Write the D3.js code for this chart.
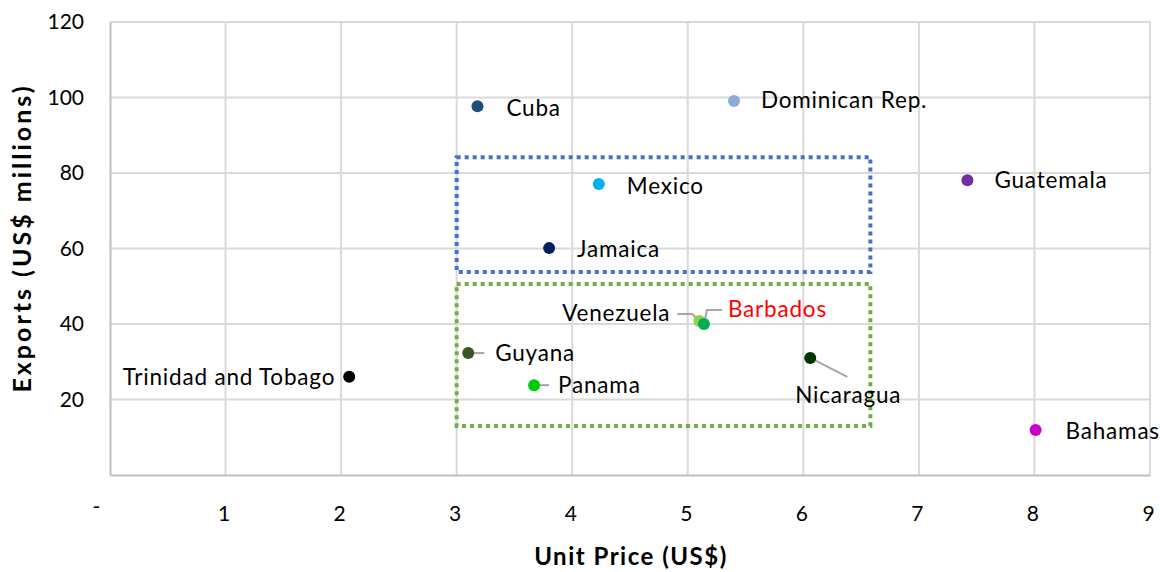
<!DOCTYPE html>
<html>
<head>
<meta charset="utf-8">
<script src="https://cdn.jsdelivr.net/npm/d3@7"></script>
<style>
  body { margin: 0; background: #fff; }
  text { font-family: Lato, "Open Sans", sans-serif; }
</style>
</head>
<body>
<svg id="chart" width="1160" height="572"></svg>
<script>
// data
const countries = ["Trinidad and Tobago", "Cuba", "Dominican Rep.", "Mexico", "Jamaica", "Guatemala",
  "Venezuela", "Barbados", "Guyana", "Panama", "Nicaragua", "Bahamas"];
const unitPrice = [2.07, 3.18, 5.40, 4.23, 3.80, 7.42, 5.10, 5.14, 3.10, 3.67, 6.06, 8.01];
const exportsM = [26.0, 97.7, 99.1, 77.1, 60.1, 78.1, 40.8, 40.0, 32.3, 23.8, 31.0, 11.9];
const xTicks = [0, 1, 2, 3, 4, 5, 6, 7, 8, 9];
const yTicks = [20, 40, 60, 80, 100, 120];
const boxes = [
  { x0: 3.0, x1: 6.58, y0: 53.8, y1: 84.2, color: "#4472c4" },
  { x0: 3.0, x1: 6.58, y0: 13.0, y1: 50.6, color: "#70ad47" }
];

const colors = ["#000000", "#1f4e79", "#8eaadb", "#00b0f0", "#002060", "#7030a0",
  "#92d050", "#00b050", "#375623", "#00cc00", "#003300", "#cc00cc"];
// label placement relative to marker: dx, dy, anchor
const labelPos = {
  "Trinidad and Tobago": [-14, 8, "end"],
  "Cuba": [29, 10, "start"],
  "Dominican Rep.": [27, 7, "start"],
  "Mexico": [28, 10, "start"],
  "Jamaica": [28, 9, "start"],
  "Guatemala": [27, 8, "start"],
  "Venezuela": [-29, 0, "end"],
  "Barbados": [24, -7, "start"],
  "Guyana": [27, 8, "start"],
  "Panama": [24, 8, "start"],
  "Nicaragua": [38, 45, "middle"],
  "Bahamas": [30, 9, "start"]
};
// leader lines as pixel offsets from the marker
const leaders = {
  "Venezuela": [[-22, -7], [-7, -7], [0, 0]],
  "Barbados": [[0, 0], [3, -14], [18, -14]],
  "Guyana": [[0, 0], [16, 0]],
  "Panama": [[0, 0], [15, 0]],
  "Nicaragua": [[0, 0], [37, 19]]
};

const svg = d3.select("#chart");
const m = { left: 110, right: 10, top: 22, bottom: 97 };
const width = 1160 - m.left - m.right;
const height = 572 - m.top - m.bottom;

const x = d3.scaleLinear().domain([0, 9]).range([0, width]);
const y = d3.scaleLinear().domain([0, 120]).range([height, 0]);

const g = svg.append("g").attr("transform", `translate(${m.left},${m.top})`);

// grid
g.append("g").selectAll("line").data(xTicks.slice(1)).join("line")
  .attr("x1", d => x(d)).attr("x2", d => x(d)).attr("y1", 0).attr("y2", height)
  .attr("stroke", "#d9d9d9").attr("stroke-width", 2);
g.append("g").selectAll("line").data(yTicks).join("line")
  .attr("x1", 0).attr("x2", width).attr("y1", d => y(d)).attr("y2", d => y(d))
  .attr("stroke", "#d9d9d9").attr("stroke-width", 2);

// axes
const xAxis = g.append("g").attr("transform", `translate(0,${height})`)
  .call(d3.axisBottom(x).tickValues(xTicks).tickSize(0).tickPadding(31)
    .tickFormat(d => d === 0 ? "-" : d));
const yAxis = g.append("g")
  .call(d3.axisLeft(y).tickValues(yTicks).tickSize(0).tickPadding(26));
[xAxis, yAxis].forEach(a => {
  a.select(".domain").attr("stroke", "#bfbfbf").attr("stroke-width", 2);
  a.selectAll("text").attr("font-size", 21).attr("fill", "#000")
    .style("font-family", "Lato, sans-serif");
});
xAxis.selectAll(".tick text").filter(d => d === 0).attr("dx", -14).attr("dy", 8);
xAxis.selectAll(".tick text").filter(d => d !== 0).attr("dx", -2);

// boxes
g.append("g").selectAll("rect").data(boxes).join("rect")
  .attr("x", d => x(d.x0)).attr("y", d => y(d.y1))
  .attr("width", d => x(d.x1) - x(d.x0)).attr("height", d => y(d.y0) - y(d.y1))
  .attr("fill", "none").attr("stroke", d => d.color)
  .attr("stroke-width", 4).attr("stroke-dasharray", "4 4");

const pts = countries.map((c, i) => ({ name: c, px: x(unitPrice[i]), py: y(exportsM[i]), color: colors[i] }));

// leader lines
g.append("g").selectAll("path").data(pts.filter(d => leaders[d.name])).join("path")
  .attr("d", d => d3.line()(leaders[d.name].map(p => [d.px + p[0], d.py + p[1]])))
  .attr("fill", "none").attr("stroke", "#a6a6a6").attr("stroke-width", 2);

// markers
g.append("g").selectAll("circle").data(pts).join("circle")
  .attr("cx", d => d.px).attr("cy", d => d.py).attr("r", 6)
  .attr("fill", d => d.color);

// labels
g.append("g").selectAll("text").data(pts).join("text")
  .attr("x", d => d.px + labelPos[d.name][0])
  .attr("y", d => d.py + labelPos[d.name][1])
  .attr("text-anchor", d => labelPos[d.name][2])
  .attr("font-size", 22.5)
  .attr("letter-spacing", 0.8)
  .attr("fill", d => d.name === "Barbados" ? "#ff0000" : "#000")
  .text(d => d.name);

// axis titles
svg.append("text")
  .attr("transform", `translate(31,238) rotate(-90)`)
  .attr("text-anchor", "middle").attr("font-size", 25).attr("font-weight", "bold")
  .attr("letter-spacing", 3)
  .text("Exports (US$ millions)");
svg.append("text")
  .attr("x", 631).attr("y", 565)
  .attr("text-anchor", "middle").attr("font-size", 24).attr("font-weight", "bold")
  .attr("letter-spacing", 1.5)
  .text("Unit Price (US$)");
</script>
</body>
</html>
